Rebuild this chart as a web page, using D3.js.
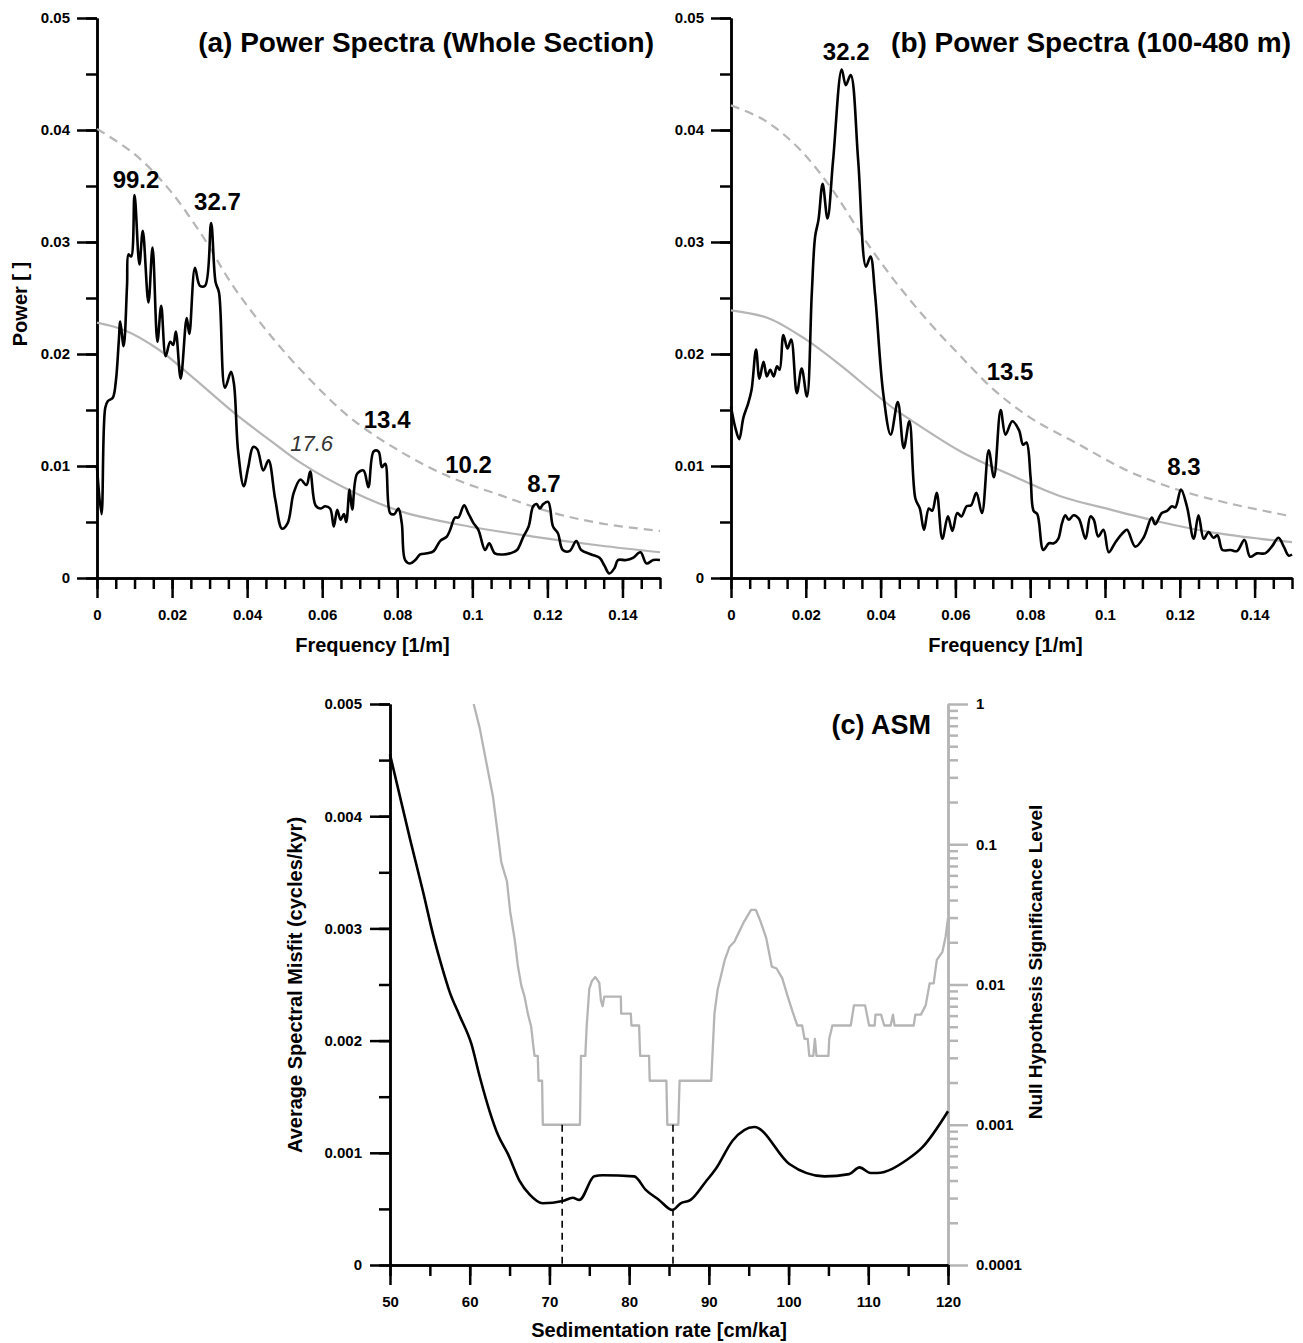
<!DOCTYPE html>
<html>
<head>
<meta charset="utf-8">
<script src="https://cdn.jsdelivr.net/npm/d3@7"></script>
<style>
  html, body { margin: 0; padding: 0; background: #fff; }
  svg { display: block; }
</style>
</head>
<body>
<svg id="chart" width="1303" height="1343"></svg>
<script>
// ---------------- DATA ----------------
// Panel (a): power spectrum, whole section
const freqA = [0, 0.0012, 0.0022, 0.0029, 0.0042, 0.0050, 0.0058, 0.0062, 0.0071, 0.0080, 0.0084, 0.0091, 0.0100, 0.0113, 0.0122, 0.0137, 0.0148, 0.0161, 0.0171, 0.0183, 0.0195, 0.0203, 0.0210, 0.0223, 0.0239, 0.0246, 0.0261, 0.0274, 0.0288, 0.0304, 0.0316, 0.0325, 0.0341, 0.0357, 0.0365, 0.0376, 0.0391, 0.0403, 0.0416, 0.0427, 0.0443, 0.0457, 0.0475, 0.0493, 0.0508, 0.0524, 0.0542, 0.0558, 0.0568, 0.0582, 0.0595, 0.0608, 0.0621, 0.0631, 0.0640, 0.0649, 0.0658, 0.0664, 0.0673, 0.0680, 0.0693, 0.0710, 0.0723, 0.0737, 0.0750, 0.0759, 0.0768, 0.0781, 0.0792, 0.0803, 0.0812, 0.0821, 0.0834, 0.0848, 0.0861, 0.0879, 0.0897, 0.0914, 0.0932, 0.0941, 0.0954, 0.0963, 0.0978, 0.0989, 0.1003, 0.1016, 0.1034, 0.1045, 0.1060, 0.1083, 0.1101, 0.1119, 0.1136, 0.1150, 0.1162, 0.1171, 0.1180, 0.1189, 0.1202, 0.1215, 0.1228, 0.1241, 0.1259, 0.1277, 0.1290, 0.1317, 0.1339, 0.1352, 0.1365, 0.1379, 0.1388, 0.1410, 0.1428, 0.1448, 0.1464, 0.1482, 0.1500];
const powerA = [0.0099, 0.0057, 0.0152, 0.0158, 0.0161, 0.0175, 0.0211, 0.0229, 0.0207, 0.0261, 0.0289, 0.0287, 0.0342, 0.0280, 0.0310, 0.0246, 0.0295, 0.0211, 0.0243, 0.0198, 0.0211, 0.0208, 0.0220, 0.0178, 0.0232, 0.0218, 0.0277, 0.0261, 0.0261, 0.0317, 0.0264, 0.0255, 0.0170, 0.0184, 0.0173, 0.0113, 0.0082, 0.0099, 0.0117, 0.0115, 0.0096, 0.0105, 0.0070, 0.0044, 0.0049, 0.0076, 0.0088, 0.0083, 0.0095, 0.0065, 0.0062, 0.0064, 0.0062, 0.0046, 0.0061, 0.0052, 0.0057, 0.0050, 0.0079, 0.0061, 0.0093, 0.0096, 0.0081, 0.0113, 0.0113, 0.0099, 0.0102, 0.0058, 0.0057, 0.0062, 0.0049, 0.0016, 0.0013, 0.0016, 0.0021, 0.0022, 0.0024, 0.0033, 0.0037, 0.0043, 0.0054, 0.0054, 0.0065, 0.0058, 0.0049, 0.0043, 0.0025, 0.0031, 0.0022, 0.0021, 0.0022, 0.0025, 0.0037, 0.0046, 0.0064, 0.0066, 0.0062, 0.0066, 0.0068, 0.0046, 0.0040, 0.0025, 0.0024, 0.0033, 0.0025, 0.0021, 0.0018, 0.0011, 0.0004, 0.0009, 0.0016, 0.0016, 0.0018, 0.0023, 0.0013, 0.0016, 0.0016];
const noiseFreqA = [0, 0.0075, 0.0164, 0.0252, 0.0367, 0.0465, 0.0542, 0.0681, 0.0814, 0.0991, 0.1162, 0.1339, 0.15];
const noiseA = [0.0228, 0.0221, 0.0204, 0.0180, 0.0147, 0.0122, 0.0103, 0.0077, 0.0059, 0.0046, 0.0037, 0.0029, 0.0023];
const confFreqA = [0, 0.0098, 0.0187, 0.0276, 0.0364, 0.0471, 0.0568, 0.0675, 0.0808, 0.0941, 0.1074, 0.1207, 0.1339, 0.15];
const confA = [0.0401, 0.0379, 0.0349, 0.0308, 0.0260, 0.0213, 0.0177, 0.0143, 0.0113, 0.0090, 0.0074, 0.0059, 0.0049, 0.0042];
const peakTextA = ["99.2", "32.7", "17.6", "13.4", "10.2", "8.7"];
const peakFreqA = [0.0104, 0.0321, 0.0572, 0.0773, 0.0990, 0.1191];
const peakPowA = [0.0348, 0.0329, 0.01134, 0.0134, 0.0094, 0.0077];

// Panel (b): power spectrum, 100-480 m
const freqB = [0.0000, 0.0011, 0.0022, 0.0033, 0.0046, 0.0055, 0.0067, 0.0076, 0.0087, 0.0096, 0.0105, 0.0114, 0.0123, 0.0130, 0.0140, 0.0151, 0.0161, 0.0176, 0.0189, 0.0203, 0.0216, 0.0225, 0.0234, 0.0245, 0.0258, 0.0273, 0.0296, 0.0307, 0.0320, 0.0340, 0.0361, 0.0373, 0.0385, 0.0407, 0.0427, 0.0446, 0.0462, 0.0477, 0.0493, 0.0505, 0.0516, 0.0529, 0.0538, 0.0550, 0.0565, 0.0580, 0.0592, 0.0605, 0.0616, 0.0630, 0.0642, 0.0656, 0.0671, 0.0689, 0.0703, 0.0721, 0.0734, 0.0752, 0.0770, 0.0781, 0.0790, 0.0801, 0.0809, 0.0819, 0.0835, 0.0850, 0.0863, 0.0875, 0.0885, 0.0894, 0.0903, 0.0916, 0.0930, 0.0948, 0.0961, 0.0970, 0.0982, 0.0996, 0.1010, 0.1028, 0.1050, 0.1059, 0.1081, 0.1103, 0.1125, 0.1134, 0.1152, 0.1166, 0.1179, 0.1188, 0.1203, 0.1219, 0.1237, 0.1250, 0.1264, 0.1277, 0.1290, 0.1301, 0.1314, 0.1336, 0.1353, 0.1373, 0.1388, 0.1406, 0.1428, 0.1446, 0.1464, 0.1478, 0.1491, 0.1500];
const powerB = [0.0153, 0.0135, 0.0124, 0.0143, 0.0156, 0.0168, 0.0204, 0.0178, 0.0193, 0.0180, 0.0186, 0.0180, 0.0189, 0.0186, 0.0217, 0.0205, 0.0213, 0.0165, 0.0187, 0.0162, 0.0254, 0.0305, 0.0320, 0.0352, 0.0321, 0.0373, 0.0454, 0.0440, 0.0449, 0.0373, 0.0278, 0.0287, 0.0254, 0.0165, 0.0128, 0.0157, 0.0116, 0.0140, 0.0071, 0.0062, 0.0043, 0.0062, 0.0060, 0.0076, 0.0035, 0.0055, 0.0042, 0.0058, 0.0055, 0.0064, 0.0065, 0.0076, 0.0058, 0.0114, 0.0090, 0.0150, 0.0128, 0.0140, 0.0132, 0.0119, 0.0121, 0.0090, 0.0060, 0.0057, 0.0025, 0.0031, 0.0031, 0.0035, 0.0049, 0.0056, 0.0052, 0.0056, 0.0053, 0.0035, 0.0055, 0.0052, 0.0037, 0.0043, 0.0023, 0.0032, 0.0041, 0.0043, 0.0028, 0.0036, 0.0054, 0.0048, 0.0058, 0.0060, 0.0064, 0.0063, 0.0079, 0.0064, 0.0035, 0.0056, 0.0035, 0.0041, 0.0036, 0.0038, 0.0025, 0.0025, 0.0024, 0.0034, 0.0019, 0.0022, 0.0022, 0.0028, 0.0036, 0.0028, 0.0020, 0.0021];
const noiseFreqB = [0, 0.0100, 0.0200, 0.0300, 0.0347, 0.0436, 0.0472, 0.0614, 0.0748, 0.0881, 0.1015, 0.1148, 0.1282, 0.1416, 0.15];
const noiseB = [0.0239, 0.0232, 0.0213, 0.0188, 0.0175, 0.0151, 0.0143, 0.0113, 0.0092, 0.0073, 0.0061, 0.0050, 0.0041, 0.0035, 0.0032];
const confFreqB = [0, 0.0088, 0.0177, 0.0266, 0.0356, 0.0436, 0.0525, 0.0614, 0.0703, 0.0801, 0.0926, 0.1059, 0.1193, 0.1327, 0.15];
const confB = [0.0422, 0.0409, 0.0385, 0.0349, 0.0303, 0.0266, 0.0230, 0.0198, 0.0168, 0.0143, 0.0120, 0.0096, 0.0079, 0.0067, 0.0055];
const peakTextB = ["32.2", "13.5", "8.3"];
const peakFreqB = [0.0308, 0.0746, 0.1211];
const peakPowB = [0.04625, 0.0177, 0.0092];

// Panel (c): ASM
const rateASM = [50, 52.5, 54.17, 55.42, 56.46, 57.5, 58.75, 60.21, 61.25, 62.5, 63.54, 64.79, 66.25, 67.5, 69.17, 71.67, 72.92, 73.75, 75.63, 76.67, 80.63, 82.08, 83.75, 85.42, 86.46, 87.71, 89.58, 90.9, 93.0, 95.7, 100.1, 104.5, 107.6, 108.9, 110.3, 111.1, 114.9, 116.8, 120];
const asmValues = [0.00455, 0.0038, 0.00332, 0.00294, 0.00267, 0.00243, 0.00222, 0.00197, 0.00168, 0.00137, 0.00116, 0.00099, 0.00075, 0.00063, 0.00055, 0.00057, 0.0006, 0.00058, 0.00079, 0.0008, 0.00079, 0.00067, 0.00058, 0.00049, 0.00055, 0.00058, 0.00074, 0.00086, 0.00111, 0.00123, 0.0009, 0.00079, 0.00081, 0.00087, 0.00082, 0.00082, 0.00094, 0.00105, 0.00137];
const rateSig = [60.5, 61.25, 62.08, 62.92, 63.54, 63.96, 64.38, 64.67, 65.08, 65.63, 66.04, 66.46, 66.88, 67.29, 67.71, 67.92, 68.13, 68.54, 68.63, 69.08, 69.17, 73.83, 73.96, 74.5, 74.67, 75.0, 75.33, 75.75, 76.25, 76.46, 76.67, 76.88, 78.96, 79.0, 80.21, 80.29, 81.25, 81.38, 82.5, 82.58, 84.67, 84.79, 86.17, 86.33, 90.3, 90.7, 91.1, 91.5, 92.0, 92.6, 93.2, 93.8, 94.4, 95.3, 95.9, 96.5, 97.2, 97.9, 98.5, 99.2, 99.9, 100.5, 101.1, 101.7, 102.0, 102.4, 102.6, 103.1, 103.3, 103.5, 105.0, 105.1, 105.5, 107.8, 108.2, 109.6, 110.1, 110.8, 110.9, 111.6, 112.0, 112.8, 113.1, 113.3, 115.7, 115.9, 116.6, 117.2, 117.7, 118.2, 118.6, 119.3, 119.7, 120];
const sigValues = [1.0, 0.676, 0.384, 0.218, 0.116, 0.0746, 0.0618, 0.0545, 0.0329, 0.0212, 0.0136, 0.0099, 0.0082, 0.0062, 0.0050, 0.0039, 0.0031, 0.0031, 0.00206, 0.00206, 0.001, 0.001, 0.0031, 0.0031, 0.005, 0.0093, 0.0106, 0.0113, 0.0103, 0.0077, 0.0070, 0.0082, 0.0082, 0.0062, 0.0062, 0.0051, 0.0051, 0.0031, 0.0031, 0.00206, 0.00206, 0.001, 0.001, 0.00206, 0.00206, 0.0062, 0.0092, 0.0114, 0.015, 0.0186, 0.0202, 0.0238, 0.028, 0.034, 0.034, 0.028, 0.0214, 0.0134, 0.0130, 0.0111, 0.0082, 0.0064, 0.0051, 0.0051, 0.0041, 0.0041, 0.0031, 0.0031, 0.0041, 0.0031, 0.0031, 0.0041, 0.0051, 0.0051, 0.0071, 0.0071, 0.0051, 0.0051, 0.0061, 0.0061, 0.0051, 0.0051, 0.0061, 0.0051, 0.0051, 0.0061, 0.0061, 0.0071, 0.0102, 0.0102, 0.015, 0.0171, 0.0219, 0.0297];
const optimalRates = [71.6, 85.5];

// Tick labels
const specYTicks = [0, 0.01, 0.02, 0.03, 0.04, 0.05];
const specXTicks = [0, 0.02, 0.04, 0.06, 0.08, 0.1, 0.12, 0.14];
const asmYTicks = [0, 0.001, 0.002, 0.003, 0.004, 0.005];
const rateTicks = [50, 60, 70, 80, 90, 100, 110, 120];
const sigTicks = [0.0001, 0.001, 0.01, 0.1, 1];

// ---------------- DRAWING ----------------
const FONT = "'Liberation Sans', Arial, Helvetica, sans-serif";
const GRAY = "#b5b5b5";
const TICK_FS = 15;
const svg = d3.select("#chart");

function styleAxis(g, color) {
  g.select(".domain").attr("stroke", color).attr("stroke-width", 2.5);
  g.selectAll(".tick line").attr("stroke", color).attr("stroke-width", 2.5);
  g.selectAll(".tick text")
    .attr("fill", "#000")
    .attr("font-family", FONT)
    .attr("font-weight", "bold")
    .attr("font-size", TICK_FS);
}

function addText(x, y, txt, opts) {
  opts = opts || {};
  const t = svg.append("text")
    .attr("x", x).attr("y", y)
    .attr("font-family", FONT)
    .attr("font-weight", opts.weight || "bold")
    .attr("font-size", opts.size || 20)
    .attr("font-style", opts.style || "normal")
    .attr("fill", opts.fill || "#000")
    .attr("text-anchor", opts.anchor || "middle")
    .text(txt);
  if (opts.rotate) t.attr("transform", `rotate(${opts.rotate},${x},${y})`);
  return t;
}

function spectrumPanel(cfg) {
  const x = d3.scaleLinear().domain([0, 0.15]).range([cfg.left, cfg.right]);
  const y = d3.scaleLinear().domain([0, 0.05]).range([578, 18]);

  // minor ticks
  svg.append("g").attr("transform", `translate(0,578)`)
    .call(d3.axisBottom(x).tickValues(d3.range(0, 0.1501, 0.005)).tickSize(11).tickSizeOuter(0).tickFormat(""))
    .call(g => styleAxis(g, "#000"));
  svg.append("g").attr("transform", `translate(${cfg.left},0)`)
    .call(d3.axisLeft(y).tickValues(d3.range(0, 0.0501, 0.005)).tickSize(11).tickSizeOuter(0).tickFormat(""))
    .call(g => styleAxis(g, "#000"));
  // major ticks
  svg.append("g").attr("transform", `translate(0,578)`)
    .call(d3.axisBottom(x).tickValues(specXTicks).tickSize(20).tickSizeOuter(0).tickPadding(11).tickFormat(d => String(d)))
    .call(g => styleAxis(g, "#000"));
  svg.append("g").attr("transform", `translate(${cfg.left},0)`)
    .call(d3.axisLeft(y).tickValues(specYTicks).tickSize(20).tickSizeOuter(0).tickPadding(7).tickFormat(d => String(d)))
    .call(g => styleAxis(g, "#000"));

  const line = (fx, fy, curve) => d3.line().x((d, i) => x(fx[i])).y((d, i) => y(fy[i])).curve(curve);

  // noise background (solid) and confidence (dashed)
  svg.append("path").datum(cfg.noiseF)
    .attr("d", line(cfg.noiseF, cfg.noise, d3.curveCatmullRom.alpha(0.5)))
    .attr("fill", "none").attr("stroke", GRAY).attr("stroke-width", 2.2);
  svg.append("path").datum(cfg.confF)
    .attr("d", line(cfg.confF, cfg.conf, d3.curveCatmullRom.alpha(0.5)))
    .attr("fill", "none").attr("stroke", GRAY).attr("stroke-width", 2.2)
    .attr("stroke-dasharray", "9,6");
  // spectrum
  svg.append("path").datum(cfg.freq)
    .attr("d", line(cfg.freq, cfg.power, d3.curveCatmullRom.alpha(0.5)))
    .attr("fill", "none").attr("stroke", "#000").attr("stroke-width", 2.6)
    .attr("stroke-linejoin", "round");

  // peak labels
  cfg.peakText.forEach((t, i) => {
    const italic = t === "17.6";
    addText(x(cfg.peakF[i]), y(cfg.peakP[i]), t, {
      size: italic ? 22 : 24,
      weight: italic ? "normal" : "bold",
      style: italic ? "italic" : "normal",
      fill: italic ? "#333" : "#000"
    });
  });

  // titles
  addText(cfg.titleX, 52, cfg.title, { size: 28, anchor: "end" });
  addText((cfg.left + cfg.right) / 2 - 6, 652, "Frequency [1/m]", { size: 20 });
}

spectrumPanel({
  left: 97, right: 660,
  freq: freqA, power: powerA,
  noiseF: noiseFreqA, noise: noiseA, confF: confFreqA, conf: confA,
  peakText: peakTextA, peakF: peakFreqA, peakP: peakPowA,
  title: "(a) Power Spectra (Whole Section)", titleX: 654
});
spectrumPanel({
  left: 731, right: 1292,
  freq: freqB, power: powerB,
  noiseF: noiseFreqB, noise: noiseB, confF: confFreqB, conf: confB,
  peakText: peakTextB, peakF: peakFreqB, peakP: peakPowB,
  title: "(b) Power Spectra (100-480 m)", titleX: 1291
});
addText(27, 304, "Power [ ]", { size: 20, rotate: -90 });

// ---------- Panel (c) ----------
const xC = d3.scaleLinear().domain([50, 120]).range([390, 948]);
const yL = d3.scaleLinear().domain([0, 0.005]).range([1265, 704]);
const yR = d3.scaleLog().domain([0.0001, 1]).range([1265, 704]);

// right (gray) log axis
const sigMinor = [];
[0.0001, 0.001, 0.01, 0.1].forEach(d => { for (let k = 2; k <= 9; k++) sigMinor.push(k * d); });
svg.append("g").attr("transform", `translate(948,0)`)
  .call(d3.axisRight(yR).tickValues(sigMinor).tickSize(10).tickSizeOuter(0).tickFormat(""))
  .call(g => styleAxis(g, GRAY));
svg.append("g").attr("transform", `translate(948,0)`)
  .call(d3.axisRight(yR).tickValues(sigTicks).tickSize(20).tickSizeOuter(0).tickPadding(8).tickFormat(d => String(d)))
  .call(g => styleAxis(g, GRAY));

// left axis
svg.append("g").attr("transform", `translate(390,0)`)
  .call(d3.axisLeft(yL).tickValues(d3.range(0, 0.00501, 0.0005)).tickSize(11).tickSizeOuter(0).tickFormat(""))
  .call(g => styleAxis(g, "#000"));
svg.append("g").attr("transform", `translate(390,0)`)
  .call(d3.axisLeft(yL).tickValues(asmYTicks).tickSize(20).tickSizeOuter(0).tickPadding(8).tickFormat(d => String(d)))
  .call(g => styleAxis(g, "#000"));
// bottom axis
svg.append("g").attr("transform", `translate(0,1265)`)
  .call(d3.axisBottom(xC).tickValues(d3.range(50, 120.1, 5)).tickSize(11).tickSizeOuter(0).tickFormat(""))
  .call(g => styleAxis(g, "#000"));
svg.append("g").attr("transform", `translate(0,1265)`)
  .call(d3.axisBottom(xC).tickValues(rateTicks).tickSize(20).tickSizeOuter(0).tickPadding(11).tickFormat(d => String(d)))
  .call(g => styleAxis(g, "#000"));

// significance curve (gray, log scale)
svg.append("path").datum(rateSig)
  .attr("d", d3.line().x((d, i) => xC(rateSig[i])).y((d, i) => yR(sigValues[i])))
  .attr("fill", "none").attr("stroke", GRAY).attr("stroke-width", 2.3)
  .attr("stroke-linejoin", "round");

// dashed optimal lines
svg.selectAll(".opt").data(optimalRates).enter().append("line")
  .attr("x1", d => xC(d)).attr("x2", d => xC(d))
  .attr("y1", yR(0.001)).attr("y2", yL(0))
  .attr("stroke", "#000").attr("stroke-width", 1.6).attr("stroke-dasharray", "7,5");

// ASM curve
svg.append("path").datum(rateASM)
  .attr("d", d3.line().x((d, i) => xC(rateASM[i])).y((d, i) => yL(asmValues[i])).curve(d3.curveMonotoneX))
  .attr("fill", "none").attr("stroke", "#000").attr("stroke-width", 2.6)
  .attr("stroke-linejoin", "round");

addText(931, 734, "(c) ASM", { size: 27, anchor: "end" });
addText(659, 1337, "Sedimentation rate [cm/ka]", { size: 20 });
addText(302, 985, "Average Spectral Misfit (cycles/kyr)", { size: 20, rotate: -90 });
addText(1042, 962, "Null Hypothesis Significance Level", { size: 19, rotate: -90 });
</script>
</body>
</html>
